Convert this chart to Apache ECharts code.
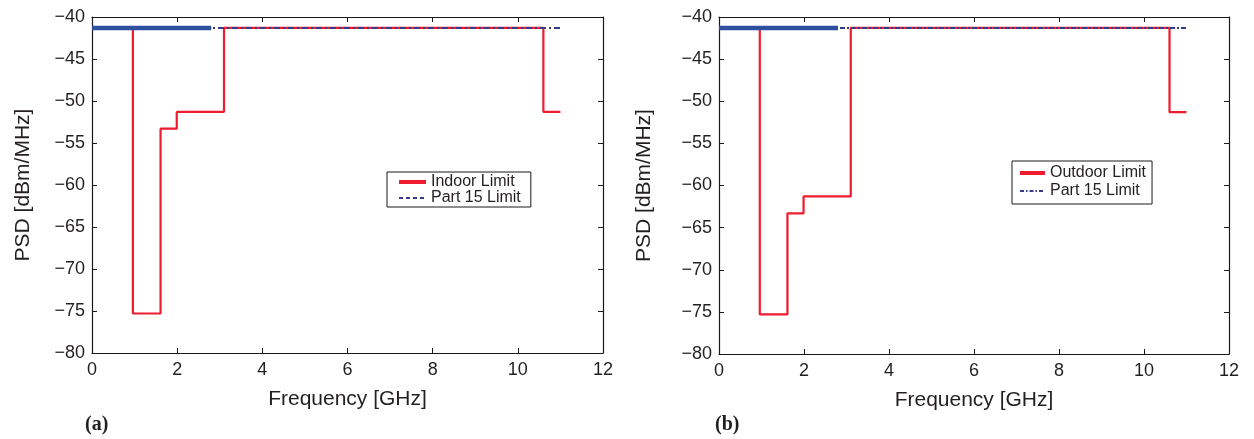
<!DOCTYPE html>
<html>
<head>
<meta charset="utf-8">
<script src="https://cdn.jsdelivr.net/npm/echarts@6/dist/echarts.min.js"></script>
<style>
html,body{margin:0;padding:0;background:#fff;}
#chart{width:1254px;height:439px;}
</style>
</head>
<body>
<div id="chart"></div>
<script>
// ---- data (GHz, dBm/MHz) ----
const xTicks = [0, 2, 4, 6, 8, 10, 12];
const yTicks = [-80, -75, -70, -65, -60, -55, -50, -45, -40];

// step breakpoints: level holds from this freq until the next one
const indoorFreq  = [0, 0.96, 1.61, 1.99, 3.1, 10.6, 11];
const indoorPSD   = [-41.3, -75.3, -53.3, -51.3, -41.3, -51.3, -51.3];

const outdoorFreq = [0, 0.96, 1.61, 1.99, 3.1, 10.6, 11];
const outdoorPSD  = [-41.3, -75.3, -63.3, -61.3, -41.3, -51.3, -51.3];

const part15Freq  = [0, 11];
const part15PSD   = [-41.3, -41.3];

// densely sampled (heavy-looking) part of the Part 15 trace
const part15DenseFreq = [0, 2.8];
const part15DensePSD  = [-41.3, -41.3];

// ---- helpers ----
const pairs = (xs, ys) => xs.map((x, i) => [x, ys[i]]);
const RED = '#ee1c2e';
const BLUE_THICK = '#2f4f9f';
const BLUE = '#34398a';
const TXT = '#231f20';
const FONT = '"Liberation Sans", Arial, sans-serif';
const minusFmt = v => String(v).replace('-', '\u2212');

function axesFor(gridIndex, yNameGap) {
  const common = {
    type: 'value', gridIndex,
    axisLine: {show: true, onZero: false, lineStyle: {color: '#1a1a1a', width: 1.2}},
    axisTick: {show: true, inside: true, length: 5, lineStyle: {color: '#1a1a1a'}},
    splitLine: {show: false}
  };
  const xs = [
    Object.assign({}, common, {
      position: 'bottom', min: xTicks[0], max: xTicks[xTicks.length - 1], interval: 2,
      name: 'Frequency [GHz]', nameLocation: 'middle', nameGap: 36,
      nameTextStyle: {fontFamily: FONT, fontSize: 21, color: TXT},
      axisLabel: {fontFamily: FONT, fontSize: 18, color: TXT, margin: 8, formatter: minusFmt}
    }),
    Object.assign({}, common, {
      position: 'top', min: xTicks[0], max: xTicks[xTicks.length - 1], interval: 2,
      axisLabel: {show: false}
    })
  ];
  const ys = [
    Object.assign({}, common, {
      position: 'left', min: yTicks[0], max: yTicks[yTicks.length - 1], interval: 5,
      name: 'PSD [dBm/MHz]', nameLocation: 'middle', nameGap: yNameGap,
      nameTextStyle: {fontFamily: FONT, fontSize: 21, color: TXT},
      axisLabel: {fontFamily: FONT, fontSize: 18, color: TXT, margin: 7, formatter: minusFmt}
    }),
    Object.assign({}, common, {
      position: 'right', min: yTicks[0], max: yTicks[yTicks.length - 1], interval: 5,
      axisLabel: {show: false}
    })
  ];
  return {xs, ys};
}

const A = axesFor(0, 58);
const B = axesFor(1, 64);

const legendBase = {
  orient: 'vertical',
  borderColor: '#1a1a1a', borderWidth: 1, borderRadius: 0,
  itemHeight: 16,
  itemStyle: {opacity: 0},
  textStyle: {fontFamily: FONT, fontSize: 16, color: TXT}
};

const option = {
  animation: false,
  backgroundColor: '#fff',
  grid: [
    {left: 92, top: 17, width: 511, height: 336},
    {left: 719, top: 17, width: 510, height: 337}
  ],
  xAxis: [A.xs[0], A.xs[1], B.xs[0], B.xs[1]],
  yAxis: [A.ys[0], A.ys[1], B.ys[0], B.ys[1]],
  legend: [
    Object.assign({}, legendBase, {
      left: 387, top: 172,
      padding: [2, 10, 1, 10], itemGap: 0, itemWidth: 27,
      data: [
        {name: 'Indoor Limit', lineStyle: {width: 4}},
        {name: 'Part 15 Limit', lineStyle: {width: 2, type: [4, 3]}}
      ]
    }),
    Object.assign({}, legendBase, {
      left: 1012, top: 161,
      padding: [4, 6, 5, 6], itemGap: 2, itemWidth: 25,
      data: [
        {name: 'Outdoor Limit', lineStyle: {width: 4}},
        {name: 'Part 15 Limit ', lineStyle: {width: 2, type: [4, 2, 1.5, 2]}}
      ]
    })
  ],
  title: [
    {text: '(a)', left: 80, top: 410, textStyle: {fontFamily: '"Liberation Serif", "Times New Roman", serif', fontWeight: 'bold', fontSize: 20, color: TXT}},
    {text: '(b)', left: 710, top: 410, textStyle: {fontFamily: '"Liberation Serif", "Times New Roman", serif', fontWeight: 'bold', fontSize: 20, color: TXT}}
  ],
  series: [
    {
      name: 'Indoor Limit', type: 'line', step: 'end', xAxisIndex: 0, yAxisIndex: 0,
      data: pairs(indoorFreq, indoorPSD), symbol: 'none', z: 2,
      lineStyle: {color: RED, width: 2.2}, itemStyle: {color: RED}
    },
    {
      name: 'Part 15 Limit', type: 'line', xAxisIndex: 0, yAxisIndex: 0,
      data: pairs(part15Freq, part15PSD), symbol: 'none', z: 3,
      lineStyle: {color: BLUE, width: 2, type: [6, 3, 2, 3]}, itemStyle: {color: BLUE}
    },
    {
      name: 'p15dense_a', type: 'line', xAxisIndex: 0, yAxisIndex: 0,
      data: pairs(part15DenseFreq, part15DensePSD), symbol: 'none', z: 4,
      lineStyle: {color: BLUE_THICK, width: 4.5}
    },
    {
      name: 'Outdoor Limit', type: 'line', step: 'end', xAxisIndex: 2, yAxisIndex: 2,
      data: pairs(outdoorFreq, outdoorPSD), symbol: 'none', z: 2,
      lineStyle: {color: RED, width: 2.2}, itemStyle: {color: RED}
    },
    {
      name: 'Part 15 Limit ', type: 'line', xAxisIndex: 2, yAxisIndex: 2,
      data: pairs(part15Freq, part15PSD), symbol: 'none', z: 3,
      lineStyle: {color: BLUE, width: 2, type: [5, 2, 2, 2]}, itemStyle: {color: BLUE}
    },
    {
      name: 'p15dense_b', type: 'line', xAxisIndex: 2, yAxisIndex: 2,
      data: pairs(part15DenseFreq, part15DensePSD), symbol: 'none', z: 4,
      lineStyle: {color: BLUE_THICK, width: 4.5}
    }
  ]
};

const chart = echarts.init(document.getElementById('chart'), null, {renderer: 'canvas'});
chart.setOption(option);
</script>
</body>
</html>
